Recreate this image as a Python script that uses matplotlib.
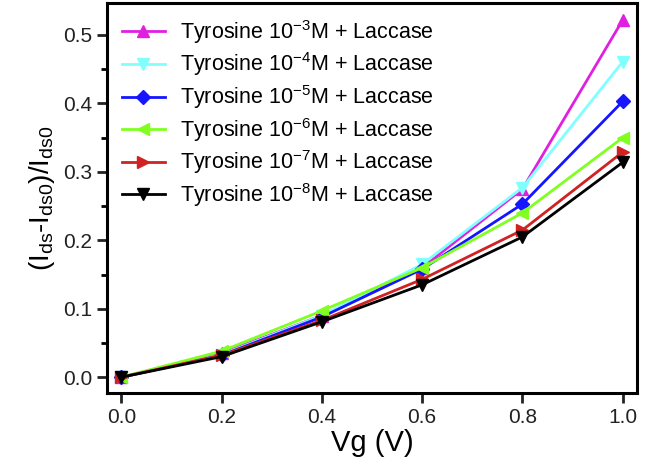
import matplotlib.pyplot as plt
import numpy as np

plt.rcParams['font.family'] = ['Liberation Sans', 'DejaVu Sans']
plt.rcParams['mathtext.default'] = 'regular'

vg = [0.0, 0.2, 0.4, 0.6, 0.8, 1.0]

tyr_1e3 = [0.0, 0.035, 0.090, 0.160, 0.275, 0.522]
tyr_1e4 = [0.0, 0.033, 0.090, 0.165, 0.277, 0.461]
tyr_1e5 = [0.0, 0.032, 0.088, 0.158, 0.253, 0.403]
tyr_1e6 = [0.0, 0.038, 0.097, 0.160, 0.240, 0.350]
tyr_1e7 = [0.0, 0.032, 0.083, 0.143, 0.215, 0.329]
tyr_1e8 = [0.0, 0.030, 0.081, 0.135, 0.205, 0.314]

labels = ["Tyrosine 10$^{-3}$M + Laccase", "Tyrosine 10$^{-4}$M + Laccase",
          "Tyrosine 10$^{-5}$M + Laccase", "Tyrosine 10$^{-6}$M + Laccase",
          "Tyrosine 10$^{-7}$M + Laccase", "Tyrosine 10$^{-8}$M + Laccase"]


def main():
    fig, ax = plt.subplots(figsize=(6.55, 4.7), dpi=100)
    fig.subplots_adjust(left=0.163, right=0.973, top=0.994, bottom=0.164)

    series = [tyr_1e3, tyr_1e4, tyr_1e5, tyr_1e6, tyr_1e7, tyr_1e8]
    colors = ['#e020e0', '#80ffff', '#1515ff', '#80ff20', '#d02222', '#000000']
    markers = ['^', 'v', 'D', '<', '>', 'v']

    for y, c, m, lab in zip(series, colors, markers, labels):
        ms = 7 if m == 'D' else 9
        ax.plot(vg, y, color=c, marker=m, markersize=ms, linewidth=2, label=lab)

    ax.set_xlim(-0.029, 1.029)
    ax.set_ylim(-0.023, 0.547)
    ax.set_xticks(np.arange(0, 1.01, 0.2))
    ax.set_yticks(np.arange(0, 0.51, 0.1))
    ax.set_yticks(np.arange(0.05, 0.51, 0.1), minor=True)
    ax.xaxis.set_major_formatter(plt.FormatStrFormatter('%.1f'))
    ax.yaxis.set_major_formatter(plt.FormatStrFormatter('%.1f'))
    ax.tick_params(axis='both', which='major', direction='out', length=7, width=2,
                   labelsize=15, colors='#222222')
    ax.tick_params(axis='y', which='minor', direction='out', length=4, width=2)
    for s in ax.spines.values():
        s.set_linewidth(2.2)

    ax.set_xlabel("Vg (V)", fontsize=21, labelpad=2)
    ax.set_ylabel("(I$_{ds}$-I$_{ds0}$)/I$_{ds0}$", fontsize=20, labelpad=4)

    ax.legend(loc='upper left', frameon=False, fontsize=15.5, handlelength=2.0,
              labelspacing=0.22, borderaxespad=0.25, handletextpad=0.7,
              borderpad=0.45)

    plt.savefig("out.png", dpi=100)


if __name__ == '__main__':
    main()
